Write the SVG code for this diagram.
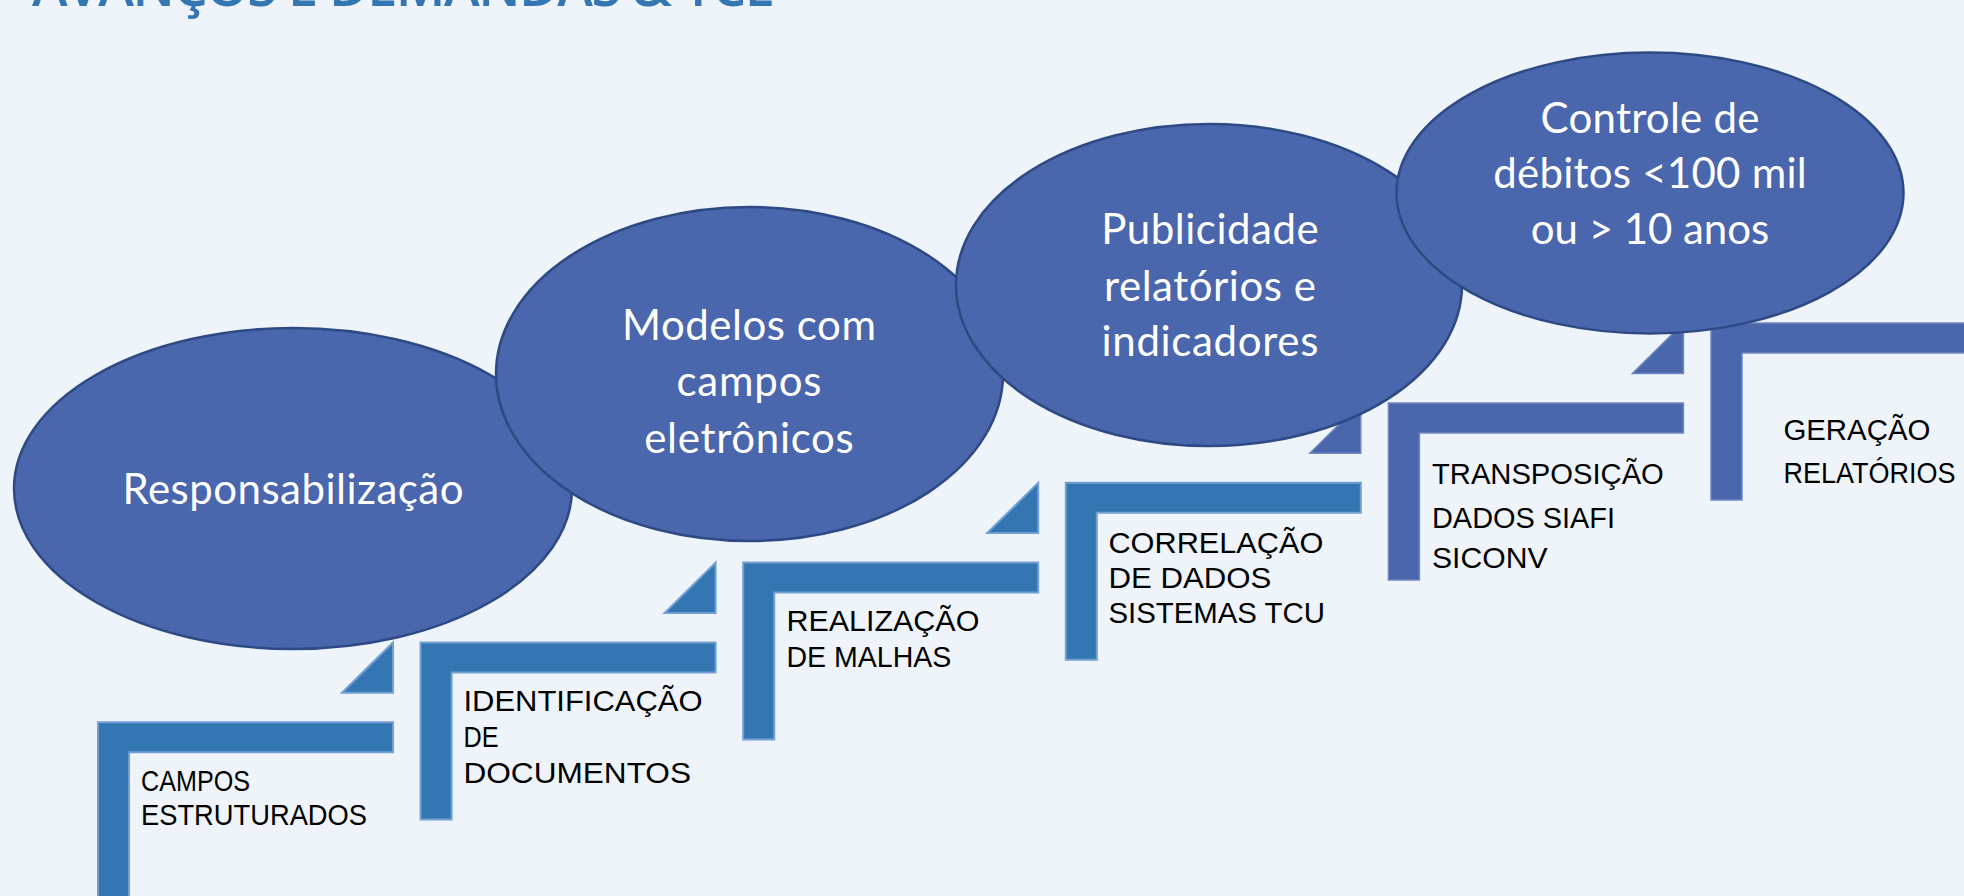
<svg xmlns="http://www.w3.org/2000/svg" width="1964" height="896" viewBox="0 0 1964 896">
<style>
.bg{fill:#EEF4FA}
.title{font-family:"Open Sans","Liberation Sans",sans-serif;font-weight:600;font-size:54px;fill:#3476B2}
.ell{fill:#4A66AC;stroke:#2E4A84;stroke-width:2.5}
.et{font-family:Lato,"Liberation Sans",sans-serif;font-size:42px;fill:#FFFFFF;text-anchor:middle}
.stA{fill:#3476B2;stroke:#72A0D4;stroke-width:2}
.stB{fill:#4A66AC;stroke:#7088C2;stroke-width:1.5}
.lt{font-family:"Liberation Sans",Arial,sans-serif;font-size:30px;fill:#000000}
</style>
<rect class="bg" x="0" y="0" width="1964" height="896"/>
<text class="title" x="32" y="6" textLength="743" lengthAdjust="spacing">AVANÇOS E DEMANDAS &amp; TCE</text>

<g id="step1">
<path class="stA" d="M98,722.3 h295 v30 h-264 v147 h-31 z"/>
<text class="lt" x="141" y="790.7" textLength="109" lengthAdjust="spacingAndGlyphs">CAMPOS</text>
<text class="lt" x="141" y="825" textLength="226" lengthAdjust="spacingAndGlyphs">ESTRUTURADOS</text>
</g>
<g id="step2">
<path class="stA" d="M420.6,642.5 h295 v30 h-264 v147 h-31 z"/>
<text class="lt" x="463.5" y="710.7" textLength="239" lengthAdjust="spacingAndGlyphs">IDENTIFICAÇÃO</text>
<text class="lt" x="463.5" y="747" textLength="35" lengthAdjust="spacingAndGlyphs">DE</text>
<text class="lt" x="463.5" y="783.3" textLength="227.5" lengthAdjust="spacingAndGlyphs">DOCUMENTOS</text>
</g>
<g id="step3">
<path class="stA" d="M743.2,562.6 h295 v30 h-264 v147 h-31 z"/>
<text class="lt" x="786.4" y="631" textLength="193" lengthAdjust="spacingAndGlyphs">REALIZAÇÃO</text>
<text class="lt" x="786.4" y="666.7" textLength="165" lengthAdjust="spacingAndGlyphs">DE MALHAS</text>
</g>
<g id="step4">
<path class="stA" d="M1065.8,482.8 h295 v30 h-264 v147 h-31 z"/>
<text class="lt" x="1108.4" y="553.3" textLength="215" lengthAdjust="spacingAndGlyphs">CORRELAÇÃO</text>
<text class="lt" x="1108.4" y="588.3" textLength="163" lengthAdjust="spacingAndGlyphs">DE DADOS</text>
<text class="lt" x="1108.4" y="623.3" textLength="216.6" lengthAdjust="spacingAndGlyphs">SISTEMAS TCU</text>
</g>
<g id="step5">
<path class="stB" d="M1388.4,402.9 h295 v30 h-264 v147 h-31 z"/>
<text class="lt" x="1432" y="484.3" textLength="231.8" lengthAdjust="spacingAndGlyphs">TRANSPOSIÇÃO</text>
<text class="lt" x="1432" y="527.7" textLength="183" lengthAdjust="spacingAndGlyphs">DADOS SIAFI</text>
<text class="lt" x="1432" y="568.3" textLength="115.5" lengthAdjust="spacingAndGlyphs">SICONV</text>
</g>
<g id="step6">
<path class="stB" d="M1711,323 h295 v30 h-264 v147 h-31 z"/>
<text class="lt" x="1783.4" y="440" textLength="147" lengthAdjust="spacingAndGlyphs">GERAÇÃO</text>
<text class="lt" x="1783.4" y="482.7" textLength="172" lengthAdjust="spacingAndGlyphs">RELATÓRIOS</text>
</g>

<g id="connectors">
<polygon class="stA" points="342,692.8 393,692.8 393,642.5"/>
<polygon class="stA" points="664.6,613 715.6,613 715.6,562.6"/>
<polygon class="stA" points="987.2,533.1 1038.2,533.1 1038.2,482.8"/>
<polygon class="stB" points="1309.8,453.3 1360.8,453.3 1360.8,402.9"/>
<polygon class="stB" points="1632.4,373.4 1683.4,373.4 1683.4,323"/>
</g>

<g id="ellipse1">
<ellipse class="ell" cx="293" cy="488.5" rx="279" ry="160.5"/>
<text class="et" x="293" y="504" textLength="341" lengthAdjust="spacing">Responsabilização</text>
</g>
<g id="ellipse2">
<ellipse class="ell" cx="749.5" cy="374" rx="253.5" ry="167"/>
<text class="et" x="749" y="339.5" textLength="254" lengthAdjust="spacing">Modelos com</text>
<text class="et" x="749" y="396" textLength="145" lengthAdjust="spacing">campos</text>
<text class="et" x="749" y="452.7" textLength="209.5" lengthAdjust="spacing">eletrônicos</text>
</g>
<g id="ellipse3">
<ellipse class="ell" cx="1209" cy="285" rx="253" ry="161"/>
<text class="et" x="1210" y="244" textLength="217.5" lengthAdjust="spacing">Publicidade</text>
<text class="et" x="1210" y="301" textLength="212" lengthAdjust="spacing">relatórios e</text>
<text class="et" x="1210" y="356" textLength="216.8" lengthAdjust="spacing">indicadores</text>
</g>
<g id="ellipse4">
<ellipse class="ell" cx="1650" cy="193" rx="253.5" ry="140.5"/>
<text class="et" x="1650" y="132.7" textLength="218.8" lengthAdjust="spacing">Controle de</text>
<text class="et" x="1650" y="188" textLength="313.5" lengthAdjust="spacing">débitos &lt;100 mil</text>
<text class="et" x="1650" y="244" textLength="238.4" lengthAdjust="spacing">ou &gt; 10 anos</text>
</g>
</svg>
